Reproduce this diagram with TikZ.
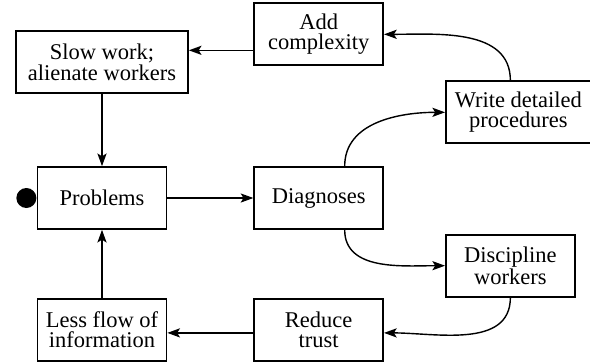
\documentclass[tikz,border=0pt]{standalone}
\usepackage{fontspec}
\setmainfont{Liberation Serif}
\usepackage{tikz}
\usetikzlibrary{arrows.meta, positioning}

\begin{document}
\begin{tikzpicture}[
    box/.style={rectangle, draw=black, line width=1.2pt, minimum width=3.225cm, minimum height=1.55cm, align=center, font=\fontsize{16}{14.5}\selectfont},
    dot/.style={circle, fill=black, minimum size=0.5cm, inner sep=0pt},
    arrow/.style={-{Stealth[length=9pt, width=6.5pt, inset=2pt]}, line width=1pt}
]
\useasboundingbox (-2.55,-4.1) rectangle (12.2,4.95);

% =====================
% Middle row: Problems and Diagnoses
% =====================
\node[box] (problems) {Problems};
\node[dot, left=0pt of problems] (start) {};
\node[box, right=2.15cm of problems] (diagnoses) {Diagnoses};

% =====================
% Top: complexity loop
% =====================
\node[box, minimum width=4.3cm, above=1.8cm of problems] (slowwork) {Slow work;\\alienate workers};
\node[box, above=2.5cm of diagnoses] (addcomplex) {Add\\complexity};
\node[box, minimum width=3.625cm, above right=0.55cm and 1.525cm of diagnoses] (procedures) {Write detailed\\procedures};

% =====================
% Bottom: trust loop
% =====================
\node[box, below right=0.1cm and 1.525cm of diagnoses] (discipline) {Discipline\\workers};
\node[box, below=1.7cm of problems] (lessflow) {Less flow of\\information};
\node[box, right=2.15cm of lessflow] (reduce) {Reduce\\trust};

% =====================
% Arrows
% =====================
\draw[arrow] (problems) -- (diagnoses);

\draw[arrow] ([xshift=0.65cm]diagnoses.north) to[out=90, in=180] (procedures.west);
\draw[arrow] ([xshift=-0.2cm]procedures.north) to[out=90, in=0] (addcomplex.east);
\draw[arrow] ([yshift=-0.4cm]addcomplex.west) -- ([yshift=-0.4cm]addcomplex.west -| slowwork.east);
\draw[arrow] (slowwork) -- (slowwork |- problems.north);

\draw[arrow] ([xshift=0.65cm]diagnoses.south) to[out=-90, in=180] (discipline.west);
\draw[arrow] (discipline.south) to[out=-90, in=0] ([yshift=-0.08cm]reduce.east);
\draw[arrow] ([yshift=-0.08cm]reduce.west) -- ([yshift=-0.08cm]lessflow.east);
\draw[arrow] (lessflow) -- (problems);

\end{tikzpicture}
\end{document}
